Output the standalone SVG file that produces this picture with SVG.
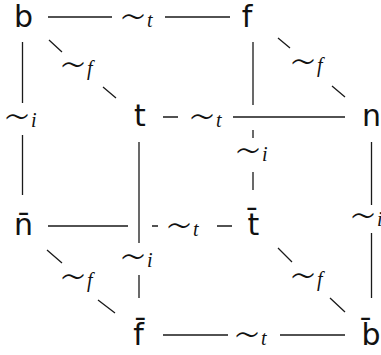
<svg xmlns="http://www.w3.org/2000/svg" width="381" height="355" viewBox="0 0 381 355">
<style>
.node{font-family:"DejaVu Sans","Liberation Sans",sans-serif;font-size:30px;fill:#111;text-anchor:middle}
.lbl{font-family:"DejaVu Sans","DejaVu Serif",sans-serif;font-weight:200;font-size:44px;fill:#111}
.sub{font-family:"Liberation Serif","DejaVu Serif",serif;font-weight:400;font-style:italic;font-size:20px}
.edge{fill:none;stroke:#1a1a1a;stroke-width:1.3}
</style>
<rect width="381" height="355" fill="#fff"/>
<g id="connectors">
  <path class="edge" d="M48 17H112M165 17H230"/>
  <path class="edge" d="M49 40L62 52M103 87L116 98"/>
  <path class="edge" d="M278 38L290 48M332 86L345 97"/>
  <path class="edge" d="M22.5 42V103M22.5 135V195"/>
  <path class="edge" d="M163 117H178M233 117H345"/>
  <path class="edge" d="M253 42V105M253 130V138M253 172V190"/>
  <path class="edge" d="M139 142V243M139 275V298"/>
  <path class="edge" d="M371.5 142V205M371.5 233V298"/>
  <path class="edge" d="M48 226H128M152 226H158M217 226H232"/>
  <path class="edge" d="M47 250L62 263M98 300L115 313"/>
  <path class="edge" d="M278 248L292 262M330 298L345 312"/>
  <path class="edge" d="M163 335H228M280 335H345"/>
  <g id="labels">
    <text class="lbl" x="119" y="31.5">∼<tspan class="sub" dy="-4.5">t</tspan></text>
    <text class="lbl" x="59" y="79.5">∼<tspan class="sub" dy="-4.5">f</tspan></text>
    <text class="lbl" x="289" y="76.5">∼<tspan class="sub" dy="-4.5">f</tspan></text>
    <text class="lbl" x="3" y="131.5">∼<tspan class="sub" dy="-4.5">i</tspan></text>
    <text class="lbl" x="188" y="131.5">∼<tspan class="sub" dy="-4.5">t</tspan></text>
    <text class="lbl" x="234" y="165.5">∼<tspan class="sub" dy="-4.5">i</tspan></text>
    <text class="lbl" x="119" y="271.5">∼<tspan class="sub" dy="-4.5">i</tspan></text>
    <text class="lbl" x="349" y="230.5">∼<tspan class="sub" dy="-4.5">i</tspan></text>
    <text class="lbl" x="165" y="240.5">∼<tspan class="sub" dy="-4.5">t</tspan></text>
    <text class="lbl" x="59" y="291.5">∼<tspan class="sub" dy="-4.5">f</tspan></text>
    <text class="lbl" x="289" y="290.5">∼<tspan class="sub" dy="-4.5">f</tspan></text>
    <text class="lbl" x="233" y="349.5">∼<tspan class="sub" dy="-4.5">t</tspan></text>
  </g>
</g>
<g id="node-b"><text class="node" x="23.5" y="27">b</text></g>
<g id="node-f"><text class="node" x="247" y="27">f</text></g>
<g id="node-t"><text class="node" x="140" y="126">t</text></g>
<g id="node-n"><text class="node" x="371.5" y="126">n</text></g>
<g id="node-nbar"><text class="node" x="23.5" y="235">n̄</text></g>
<g id="node-tbar"><text class="node" x="253.5" y="235">t̄</text></g>
<g id="node-fbar"><text class="node" x="138.5" y="345">f̄</text></g>
<g id="node-bbar"><text class="node" x="371" y="345">b̄</text></g>
</svg>
